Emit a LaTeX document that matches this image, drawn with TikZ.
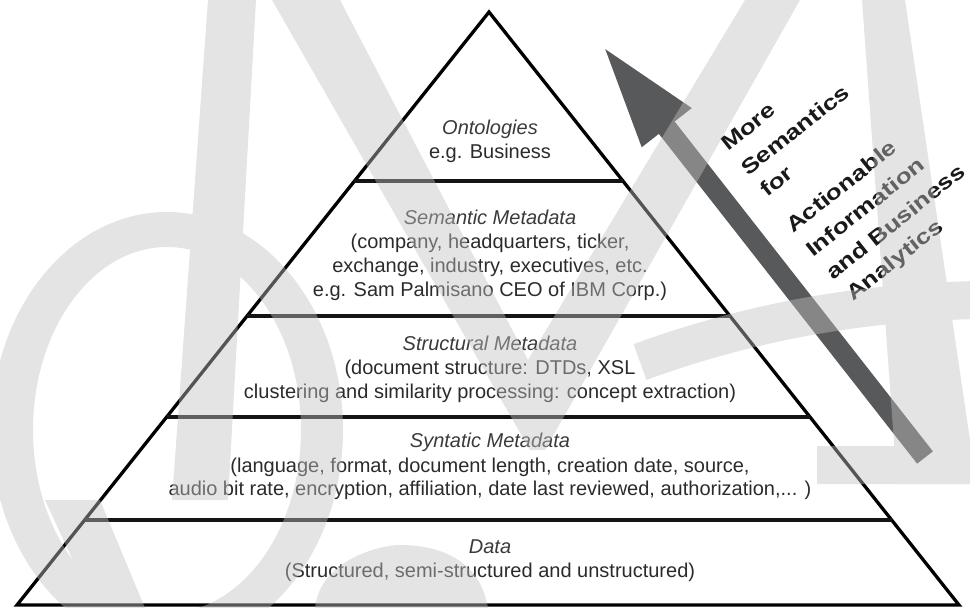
\documentclass[tikz,border=0pt]{standalone}
\usepackage{fontspec}
\setmainfont{Liberation Sans}
\newfontfamily\slogfont[FakeStretch=1.25]{Liberation Sans}
\usetikzlibrary{calc,arrows.meta}
\definecolor{bodyink}{HTML}{2B2B2B}
\definecolor{headink}{HTML}{3A3A3A}
\definecolor{shaftgray}{HTML}{58595B}
\definecolor{markgray}{HTML}{C1C1C1}
\begin{document}
\begin{tikzpicture}[x=1pt,y=-1pt,
  outline/.style={line width=3.3pt, draw=black, line join=miter},
  divider/.style={line width=4.5pt, draw=black!92},
  lvltext/.style={font=\fontsize{20}{24}\selectfont, text=bodyink, inner sep=0pt, anchor=base},
  lvlhead/.style={lvltext, font=\fontsize{20}{24}\selectfont\itshape, text=headink},
  slogan/.style={font=\slogfont\bfseries\fontsize{21}{26}\selectfont, text=black!90, inner sep=0pt, anchor=base west, rotate=38.5},
  wmark/.style={fill=markgray, draw=none},
]
\useasboundingbox (0,0) rectangle (970,608);

% pyramid outline
\coordinate (apex) at (489,12);
\coordinate (bl) at (17,605);
\coordinate (br) at (959,605);
\draw[outline] (bl) -- (apex) -- (br) -- cycle;

% level dividers
\foreach \t/\n in {0.71501/a,0.48735/b,0.31703/c,0.14334/d}{
  \coordinate (L\n) at ($(bl)!\t!(apex)$);
  \coordinate (R\n) at ($(br)!\t!(apex)$);
  \draw[divider] (L\n) -- (R\n);
}

% level captions
\node[lvlhead] (ontT) at (490,134) {Ontologies};
\node[lvltext] (ontB) at (490,158) {e.g. Business};
\node[lvlhead] (semT) at (490,224) {Semantic Metadata};
\node[lvltext] (semA) at (490,248) {(company, headquarters, ticker,};
\node[lvltext] (semB) at (490,272) {exchange, industry, executives, etc.};
\node[lvltext] (semC) at (490,296) {e.g. Sam Palmisano CEO of IBM Corp.)};
\node[lvlhead] (strT) at (490,350) {Structural Metadata};
\node[lvltext] (strA) at (490,374) {(document structure: DTDs, XSL};
\node[lvltext] (strB) at (490,398) {clustering and similarity processing: concept extraction)};
\node[lvlhead] (synT) at (490,447) {Syntatic Metadata};
\node[lvltext] (synA) at (490,472) {(language, format, document length, creation date, source,};
\node[lvltext] (synB) at (490,495) {audio bit rate, encryption, affiliation, date last reviewed, authorization,... )};
\node[lvlhead] (datT) at (490,553) {Data};
\node[lvltext] (datA) at (490,577) {(Structured, semi-structured and unstructured)};

% rising arrow
\coordinate (arrowtail) at (925,457.5);
\coordinate (arrowtip) at (602,45);
\draw[line width=20pt, draw=shaftgray, -{Triangle[length=105pt,width=57pt]}] (arrowtail) -- (arrowtip);

% slanted slogan beside the arrow
\node[slogan] (s1) at (728,152) {More};
\node[slogan] (s2) at (748,177) {Semantics};
\node[slogan] (s3) at (767,198) {for};
\node[slogan] (s4) at (793,234) {Actionable};
\node[slogan] (s5) at (813,258) {Information};
\node[slogan] (s6) at (833,281) {and Business};
\node[slogan] (s7) at (853,302) {Analytics};

% faint logo overlay
\begin{scope}[transparency group, opacity=0.44]
  \fill[wmark, even odd rule] (167,430) ellipse [x radius=176pt, y radius=218pt]
                              (167,430) ellipse [x radius=134pt, y radius=183pt];
  \fill[wmark] (208,0) -- (256,0) -- (228,500) -- (172,500) -- cycle;
  \fill[wmark] (272,0) -- (340,0) -- (528,360) -- (745,0) -- (800,0) -- (545,450) -- (530,450) -- cycle;
  \fill[wmark] (862,0) -- (905,0) -- (970,440) -- (970,484) -- (897,484) -- cycle;
  \fill[wmark] (817,446) -- (970,446) -- (970,484) -- (817,484) -- cycle;
  \draw[draw=markgray, line width=38pt] (640,362) .. controls (750,322) and (860,302) .. (980,300);
  \fill[wmark] (45,500) -- (100,500) -- (145,608) -- (95,608) -- cycle;
  \fill[wmark] (315,608) .. controls (320,560) and (380,545) .. (400,545)
               .. controls (440,545) and (480,560) .. (488,608) -- cycle;
\end{scope}
\end{tikzpicture}
\end{document}
